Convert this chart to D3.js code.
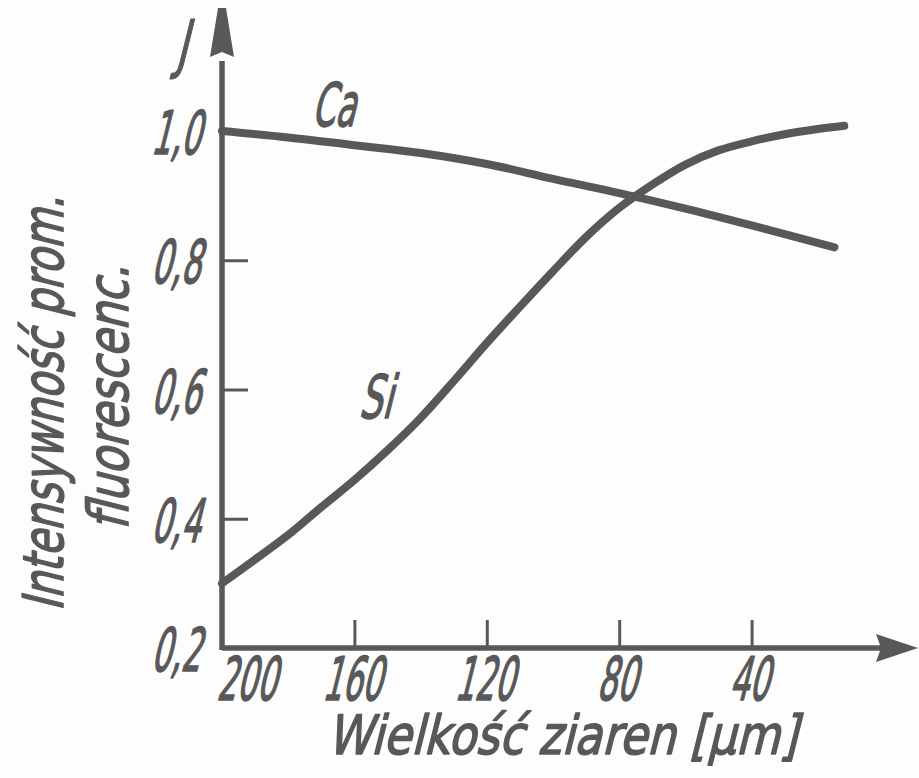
<!DOCTYPE html>
<html>
<head>
<meta charset="utf-8">
<script src="https://cdn.jsdelivr.net/npm/d3@7"></script>
<style>
  html, body { margin: 0; padding: 0; background: #fdfdfd; }
  svg { display: block; }
</style>
</head>
<body>
<svg id="chart" width="919" height="778"></svg>
<script>
// Relative fluorescence intensity J versus grain size (µm) for Ca and Si
const grainTicks = [160, 120, 80, 40];
const grainTickLabels = ["200", "160", "120", "80", "40"];
const grainLabelValues = [200, 160, 120, 80, 40];
const intensityTicks = [0.4, 0.6, 0.8, 1.0];
const intensityLabelValues = [0.2, 0.4, 0.6, 0.8, 1.0];
const intensityTickLabels = ["0,2", "0,4", "0,6", "0,8", "1,0"];

const caGrain = [200, 180, 160, 140, 120, 100, 80, 60, 40, 15];
const caIntensity = [1.000, 0.990, 0.978, 0.966, 0.949, 0.926, 0.904, 0.880, 0.854, 0.820];

const siGrain = [200, 190, 180, 170, 160, 150, 140, 130, 120, 110, 100, 90, 80, 70, 60, 50, 40, 30, 20, 12];
const siIntensity = [0.300, 0.337, 0.375, 0.418, 0.460, 0.506, 0.556, 0.613, 0.672, 0.728, 0.783, 0.836, 0.881, 0.917, 0.948, 0.970, 0.984, 0.995, 1.003, 1.008];

const INK = "#585858";
const FONT = "'DejaVu Sans', 'Liberation Sans', sans-serif";

const svg = d3.select("#chart");

const x = d3.scaleLinear().domain([200, 0]).range([222, 884]);
const y = d3.scaleLinear().domain([0.2, 1.0]).range([648, 131]);

const x0 = x(200);
const y0 = y(0.2);

// Slanted, narrow lettering in the style of technical drafting
function letter(g, str, o) {
  const t = g.append("text")
    .text(str)
    .attr("font-family", FONT)
    .attr("font-size", o.size)
    .attr("text-anchor", o.anchor || "middle")
    .attr("fill", INK)
    .attr("stroke", INK)
    .attr("stroke-width", o.weight != null ? o.weight : 1.6)
    .attr("stroke-linejoin", "round");
  let sx = o.sx || 1;
  if (o.width) {
    t.attr("textLength", o.width).attr("lengthAdjust", "spacingAndGlyphs");
    sx = 1;
  }
  t.attr("transform",
    `translate(${o.x},${o.y}) rotate(${o.rotate || 0}) skewX(-14) scale(${sx},1)`);
  return t;
}

// Tick marks drawn with d3 axes, pointing into the plot
const xAxis = svg.append("g")
  .attr("transform", `translate(0,${y0})`)
  .call(d3.axisBottom(x).tickValues(grainTicks).tickSize(-28).tickFormat(() => ""));
xAxis.select(".domain").remove();
xAxis.selectAll(".tick line").attr("stroke", INK).attr("stroke-width", 3);

const yAxis = svg.append("g")
  .attr("transform", `translate(${x0},0)`)
  .call(d3.axisLeft(y).tickValues(intensityTicks).tickSize(-26).tickFormat(() => ""));
yAxis.select(".domain").remove();
yAxis.selectAll(".tick line").attr("stroke", INK).attr("stroke-width", 3);

// Axis lines with arrowheads
const xEnd = x.range()[1];
const yTop = y.range()[1];
svg.append("line")
  .attr("x1", x0).attr("y1", y0).attr("x2", xEnd + 4).attr("y2", y0)
  .attr("stroke", INK).attr("stroke-width", 5.5);
svg.append("path")
  .attr("d", `M${xEnd - 8},${y0 - 14} L${xEnd + 34},${y0} L${xEnd - 8},${y0 + 14} L${xEnd - 3},${y0} Z`)
  .attr("fill", INK);

svg.append("line")
  .attr("x1", x0).attr("y1", y0 + 2).attr("x2", x0).attr("y2", yTop - 70)
  .attr("stroke", INK).attr("stroke-width", 5.5);
svg.append("path")
  .attr("d", `M${x0 - 12},${yTop - 74} L${x0 - 4},${yTop - 123} L${x0 + 4},${yTop - 123} L${x0 + 12},${yTop - 74} L${x0},${yTop - 79} Z`)
  .attr("fill", INK);

// Curves
const line = d3.line()
  .x(d => x(d[0]))
  .y(d => y(d[1]))
  .curve(d3.curveCatmullRom.alpha(0.5));

const caData = caGrain.map((g, i) => [g, caIntensity[i]]);
const siData = siGrain.map((g, i) => [g, siIntensity[i]]);

svg.append("path").datum(caData).attr("d", line)
  .attr("fill", "none").attr("stroke", INK).attr("stroke-width", 8)
  .attr("stroke-linecap", "round").attr("stroke-linejoin", "round");
svg.append("path").datum(siData).attr("d", line)
  .attr("fill", "none").attr("stroke", INK).attr("stroke-width", 8)
  .attr("stroke-linecap", "round").attr("stroke-linejoin", "round");

// Tick labels
const labels = svg.append("g");
grainLabelValues.forEach((v, i) => {
  const px = v === 200 ? x(v) + 24 : x(v) - 3;
  letter(labels, grainTickLabels[i], { x: px, y: y0 + 52, size: 60, sx: 0.52 });
});
intensityLabelValues.forEach((v, i) => {
  letter(labels, intensityTickLabels[i], { x: 200, y: y(v) + 23, size: 60, sx: 0.52, anchor: "end" });
});

// Series names and axis symbol
letter(labels, "J", { x: 181, y: 66, size: 64, sx: 0.62 });
letter(labels, "Ca", { x: 333, y: 126, size: 60, sx: 0.55 });
letter(labels, "Si", { x: 375, y: 418, size: 60, sx: 0.6 });

// Axis titles
letter(labels, "Wielkość ziaren [µm]", { x: 562, y: 754, size: 54, width: 470 });
letter(labels, "Intensywność prom.", { x: 63, y: 404, size: 56, width: 415, rotate: -90 });
letter(labels, "fluorescenc.", { x: 128, y: 398, size: 56, width: 265, rotate: -90 });
</script>
</body>
</html>
